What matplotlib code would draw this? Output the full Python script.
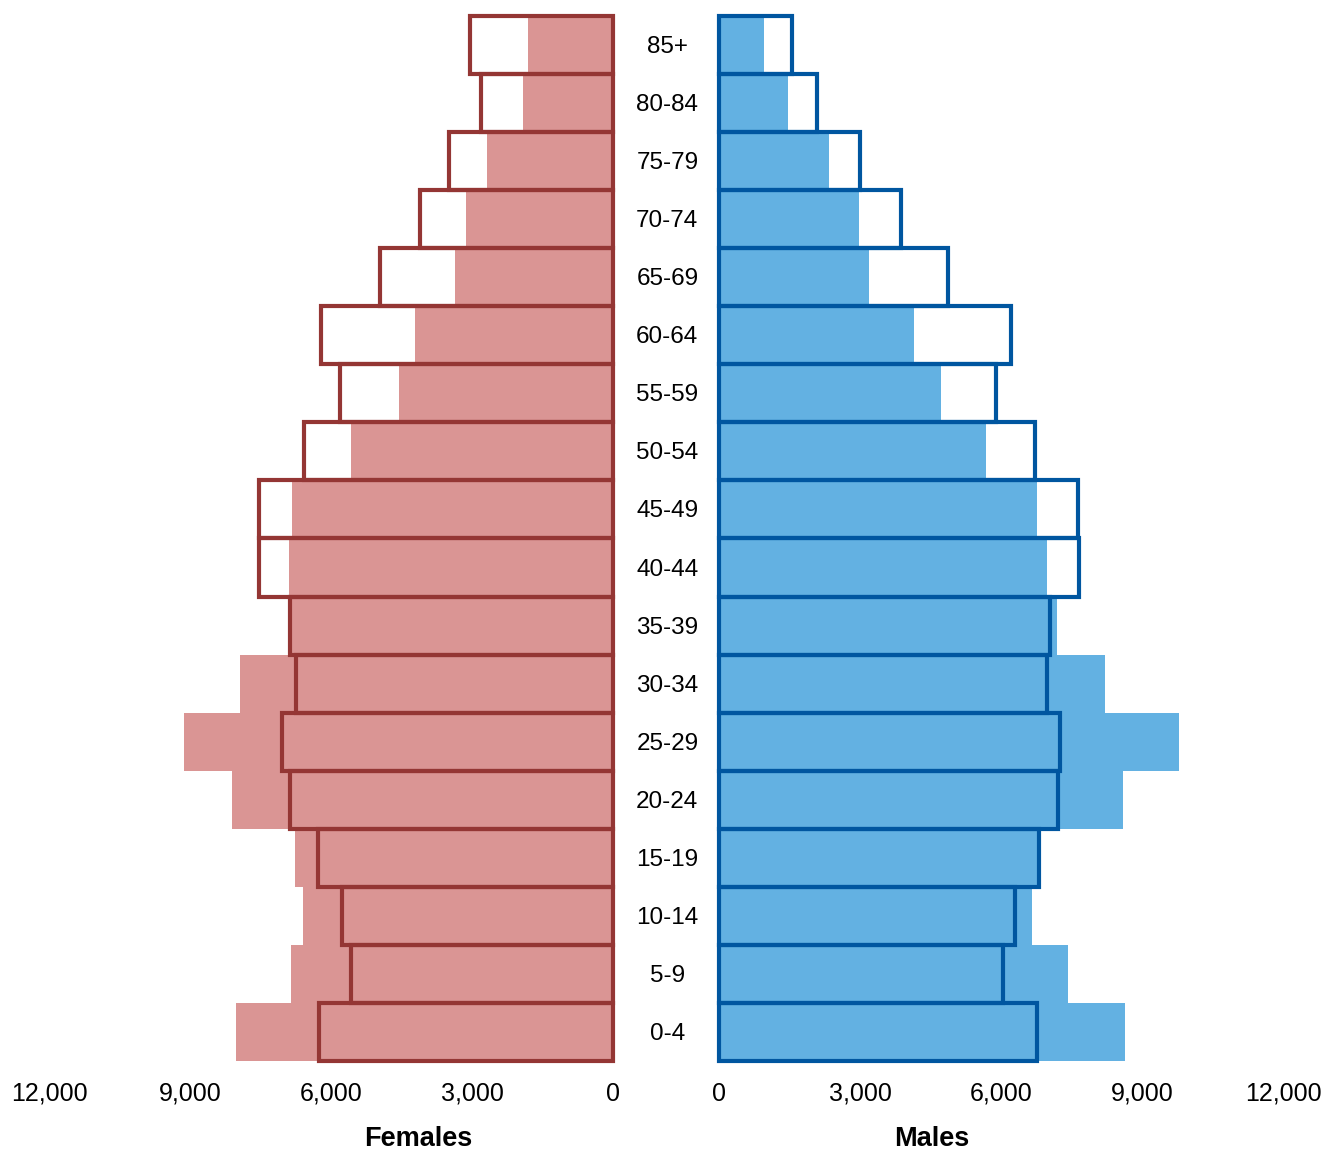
import numpy as np
import matplotlib
matplotlib.use("Agg")
from matplotlib import pyplot as plt

plt.rcParams['font.family'] = ['Liberation Sans', 'DejaVu Sans']

# Age groups from bottom to top
ages = ['0-4', '5-9', '10-14', '15-19', '20-24', '25-29', '30-34', '35-39', '40-44',
        '45-49', '50-54', '55-59', '60-64', '65-69', '70-74', '75-79', '80-84', '85+']

# Filled bars (one year)
females_fill = [8020, 6850, 6600, 6770, 8110, 9130, 7940, 6850, 6890,
                6830, 5570, 4550, 4210, 3360, 3130, 2680, 1910, 1810]
males_fill = [8640, 7430, 6660, 6780, 8600, 9790, 8210, 7190, 6980,
              6770, 5680, 4720, 4150, 3190, 2980, 2340, 1470, 960]

# Outlined bars (other year)
females_line = [6260, 5570, 5770, 6280, 6870, 7040, 6750, 6870, 7530,
                7530, 6570, 5810, 6210, 4960, 4110, 3490, 2810, 3040]
males_line = [6770, 6040, 6300, 6800, 7210, 7260, 6980, 7040, 7660,
              7640, 6720, 5890, 6210, 4870, 3870, 3000, 2090, 1550]

xticks = [0, 3000, 6000, 9000, 12000]
xticklabels = ['0', '3,000', '6,000', '9,000', '12,000']

PINK = '#DA9594'
DARK_RED = '#943634'
BLUE = '#63B1E2'
DARK_BLUE = '#0056A0'

fig = plt.figure(figsize=(13.22, 11.51), dpi=100)
ax_f = fig.add_axes([0.0371, 0.0782, 0.4266, 0.9079])
ax_m = fig.add_axes([0.5439, 0.0782, 0.4266, 0.9079])

y = np.arange(len(ages))

for ax, fill, line, fc, ec in [(ax_f, females_fill, females_line, PINK, DARK_RED),
                               (ax_m, males_fill, males_line, BLUE, DARK_BLUE)]:
    ax.barh(y, fill, height=1.0, color=fc, edgecolor='none', zorder=1)
    ax.barh(y, line, height=1.0, facecolor='none', edgecolor=ec,
            linewidth=3.0, zorder=2, clip_on=False)
    ax.set_xlim(0, 12000)
    ax.set_ylim(-0.5, len(ages) - 0.5)
    ax.set_xticks(xticks)
    ax.set_xticklabels(xticklabels, fontsize=18)
    ax.tick_params(axis='x', length=0, pad=15)
    ax.set_yticks([])
    for s in ax.spines.values():
        s.set_visible(False)

ax_f.invert_xaxis()

# age labels in the gap between the halves
for i, a in enumerate(ages):
    ax_m.text(-1100, i - 0.035, a, ha='center', va='center', fontsize=17.5)

fig.text(418 / 1322, 1 - 1139 / 1151, 'Females', ha='center', va='center',
         fontsize=19.5, fontweight='bold')
fig.text(932 / 1322, 1 - 1139 / 1151, 'Males', ha='center', va='center',
         fontsize=19.5, fontweight='bold')

fig.savefig('out.png', dpi=100)
